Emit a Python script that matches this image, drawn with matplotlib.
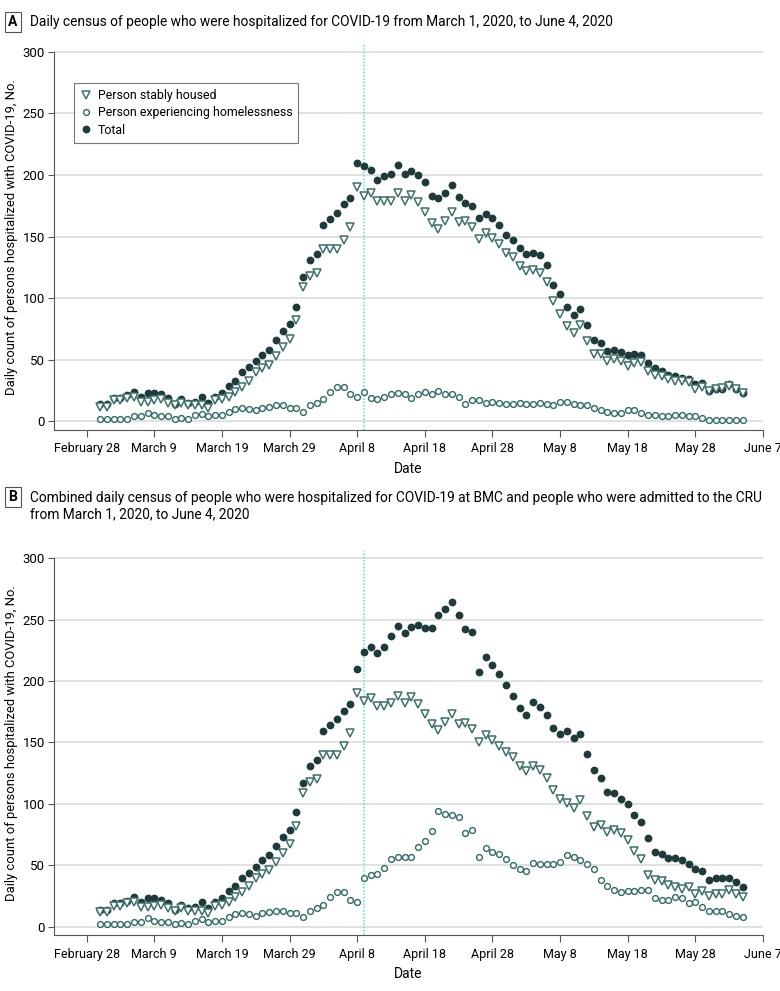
import matplotlib
matplotlib.use('Agg')
import matplotlib.pyplot as plt
import numpy as np

plt.rcParams['font.family'] = ['Roboto', 'DejaVu Sans']

# dia 0 = 1 de marzo de 2020
dias = np.arange(96)
tick_pos = [-2, 8, 18, 28, 38, 48, 58, 68, 78, 88, 98]
tick_labels = ['February 28', 'March 9', 'March 19', 'March 29', 'April 8', 'April 18',
               'April 28', 'May 8', 'May 18', 'May 28', 'June 7']
linea_dia = 39  # April 9

# Panel A
A_housed = [12, 12, 17, 17, 19, 20, 16, 16, 17, 18,
            15, 13, 15, 13, 13, 13, 11, 17, 18, 20,
            24, 28, 33, 40, 43, 46, 53, 60, 67, 82,
            109, 118, 120, 140, 140, 140, 147, 158, 190, 183,
            185, 179, 179, 179, 185, 179, 184, 178, 170, 161,
            156, 163, 170, 162, 163, 158, 148, 153, 149, 144,
            137, 133, 126, 122, 123, 120, 113, 98, 87, 77,
            72, 78, 65, 55, 55, 49, 51, 49, 45, 47,
            48, 41, 38, 37, 34, 33, 33, 32, 26, 28,
            25, 26, 27, 29, 26, 23]
A_homeless = [2, 2, 2, 2, 2, 4, 4, 7, 5, 4,
              4, 2, 3, 2, 5, 6, 4, 5, 5, 8,
              10, 11, 10, 9, 11, 12, 13, 13, 11, 11,
              8, 13, 15, 18, 24, 28, 28, 22, 20, 24,
              19, 18, 20, 22, 23, 22, 19, 22, 24, 22,
              25, 22, 22, 20, 14, 17, 17, 15, 16, 15,
              14, 14, 15, 14, 14, 15, 14, 13, 16, 16,
              14, 13, 13, 11, 9, 8, 7, 7, 9, 9,
              7, 5, 5, 4, 4, 5, 5, 4, 4, 3,
              1, 1, 1, 1, 1, 1]
A_total = [14, 14, 19, 19, 21, 24, 20, 23, 23, 22,
           19, 14, 18, 15, 16, 20, 15, 20, 23, 29,
           33, 40, 44, 49, 54, 58, 66, 73, 79, 93,
           117, 131, 136, 159, 164, 169, 176, 181, 210, 207,
           204, 196, 199, 201, 208, 201, 203, 200, 194, 183,
           181, 185, 192, 182, 177, 175, 165, 168, 165, 159,
           151, 147, 141, 136, 137, 135, 127, 111, 103, 93,
           86, 91, 78, 66, 64, 57, 58, 56, 54, 55,
           54, 47, 43, 41, 38, 37, 35, 34, 30, 31,
           25, 26, 26, 30, 26, 23]

# Panel B
B_housed = [12, 12, 17, 17, 19, 20, 16, 16, 17, 18,
            15, 13, 15, 13, 13, 13, 11, 17, 18, 20,
            24, 28, 33, 40, 43, 46, 53, 60, 67, 82,
            109, 118, 120, 140, 140, 140, 147, 158, 190, 184,
            186, 180, 180, 182, 188, 182, 187, 181, 173, 165,
            160, 167, 173, 165, 166, 161, 150, 156, 152, 147,
            142, 138, 131, 127, 131, 128, 121, 111, 104, 101,
            97, 103, 90, 81, 83, 77, 79, 76, 71, 62,
            55, 42, 38, 37, 34, 32, 31, 32, 27, 29,
            25, 27, 27, 30, 27, 24]
B_homeless = [2, 2, 2, 2, 2, 4, 4, 7, 5, 4,
              4, 2, 3, 2, 5, 6, 4, 5, 5, 8,
              10, 11, 10, 9, 11, 12, 13, 13, 11, 11,
              8, 13, 15, 18, 24, 28, 28, 22, 20, 40,
              42, 43, 48, 55, 57, 57, 57, 65, 70, 78,
              94, 92, 91, 89, 76, 79, 57, 64, 61, 59,
              55, 50, 47, 45, 52, 51, 51, 51, 53, 58,
              57, 54, 51, 47, 38, 33, 30, 28, 29, 29,
              30, 30, 23, 22, 22, 24, 23, 19, 20, 16,
              13, 13, 13, 10, 9, 8]
B_total = [14, 14, 19, 19, 21, 24, 20, 23, 23, 22,
           19, 14, 18, 15, 16, 20, 15, 20, 23, 29,
           33, 40, 44, 49, 54, 58, 66, 73, 79, 93,
           117, 131, 136, 159, 164, 169, 176, 181, 210, 224,
           228, 223, 228, 237, 245, 239, 244, 246, 243, 243,
           254, 259, 264, 254, 242, 240, 207, 220, 213, 206,
           197, 188, 178, 172, 183, 179, 172, 162, 157, 159,
           154, 157, 141, 128, 121, 110, 109, 104, 100, 91,
           85, 72, 61, 59, 56, 56, 54, 51, 47, 45,
           38, 40, 40, 40, 36, 32]

series_names = ['Person stably housed', 'Person experiencing homelessness', 'Total']

col_total = '#1f3a3a'
col_housed = '#3d6f6b'
col_homeless = '#2f6a63'


def dibujar(ax, housed, homeless, total):
    for y in range(0, 301, 50):
        ax.axhline(y, color='#dcdcdc', lw=1.2, zorder=0)
    ax.axvline(linea_dia, color='#5ee8ee', lw=1.2, ls=(0, (1, 1)), zorder=1)
    h1, = ax.plot(dias, housed, 'v', ms=5.4, mfc='white', mec=col_housed, mew=1.1, zorder=3)
    h2, = ax.plot(dias, homeless, 'o', ms=4.2, mfc='white', mec=col_homeless, mew=1.0, zorder=3)
    h3, = ax.plot(dias, total, 'o', ms=4.6, color=col_total, zorder=2)
    ax.set_xlim(-6.9, 98)
    ax.set_ylim(-7, 306)
    ax.set_xticks(tick_pos)
    ax.set_xticklabels(tick_labels, fontsize=9)
    ax.set_yticks(range(0, 301, 50))
    ax.tick_params(axis='y', labelsize=9.5, length=4, color='#555555', pad=2)
    ax.tick_params(axis='x', length=5, color='#555555', pad=4)
    ax.spines['top'].set_visible(False)
    ax.spines['right'].set_visible(False)
    ax.spines['left'].set_bounds(-7, 300)
    ax.spines['left'].set_color('#555555')
    ax.spines['bottom'].set_color('#555555')
    ax.set_xlabel('Date', fontsize=10)
    ax.xaxis.set_label_coords(0.5, -0.082)
    ax.set_ylabel('Daily count of persons hospitalized with COVID-19, No.', fontsize=9.4)
    ax.yaxis.set_label_coords(-0.05, 0.5)
    return h1, h2, h3


fig = plt.figure(figsize=(7.8, 9.91), dpi=100)
axA = fig.add_axes([0.0686, 0.5661, 0.9096, 0.3892])
axB = fig.add_axes([0.0686, 0.0562, 0.9096, 0.3879])

hs = dibujar(axA, A_housed, A_homeless, A_total)
dibujar(axB, B_housed, B_homeless, B_total)

leg = axA.legend(hs, series_names, loc='upper left', bbox_to_anchor=(0.029, 0.90),
                 borderaxespad=0, fontsize=8.9, frameon=True, fancybox=False, handletextpad=0.4,
                 borderpad=0.5, labelspacing=0.35, handlelength=1.0)
leg.get_frame().set_edgecolor('#555555')
leg.get_frame().set_linewidth(0.8)

caja = dict(boxstyle='square,pad=0.25', fc='white', ec='#555555', lw=0.8)
fig.text(0.0165, 1 - 22 / 991, 'A', fontsize=10, fontweight='bold', va='center', ha='center', bbox=caja)
fig.text(0.038, 1 - 22 / 991, 'Daily census of people who were hospitalized for COVID-19 from March 1, 2020, to June 4, 2020',
         fontsize=9.9, va='center', ha='left')
fig.text(0.0165, 1 - 497 / 991, 'B', fontsize=10, fontweight='bold', va='center', ha='center', bbox=caja)
fig.text(0.038, 1 - 506 / 991, 'Combined daily census of people who were hospitalized for COVID-19 at BMC and people who were admitted to the CRU\nfrom March 1, 2020, to June 4, 2020',
         fontsize=9.9, va='center', ha='left', linespacing=1.2)

fig.savefig('out.png', dpi=100)
